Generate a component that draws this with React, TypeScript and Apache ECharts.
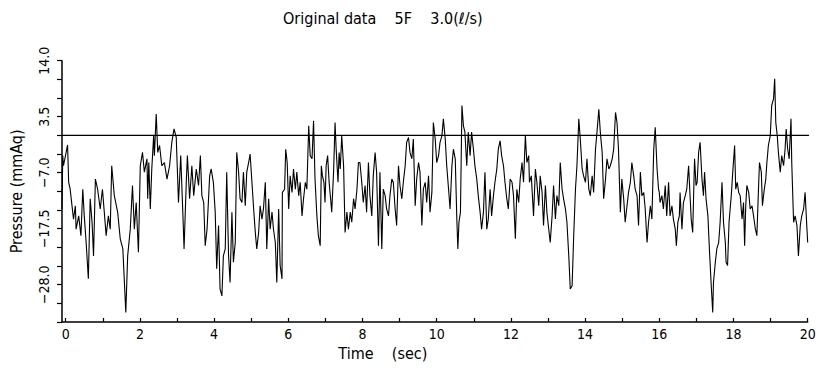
import React, { useEffect, useRef } from "react";
import * as echarts from "echarts";

// [time (sec), pressure (mmAq)] samples
const seg0to4: [number, number][] = [
  [-0.1, -13.8], [-0.08, -3.8], [-0.06, -5.7], [0.05, -1.8], [0.08, -8.8], [0.12, -10.1], [0.21, -15.7], [0.26, -13.2], [0.28, -17.6], [0.35, -15.1],
  [0.41, -18.8], [0.46, -10.1], [0.5, -15.1], [0.55, -20.0], [0.61, -26.9], [0.66, -11.9], [0.71, -16.3], [0.75, -22.6], [0.8, -8.2], [0.86, -10.1],
  [0.93, -13.8], [0.99, -10.1], [1.04, -14.4], [1.09, -18.8], [1.15, -15.1], [1.2, -17.6], [1.24, -5.7], [1.31, -11.3], [1.4, -14.4], [1.47, -19.4],
  [1.54, -21.3], [1.62, -33.2], [1.67, -22.6], [1.74, -17.6], [1.8, -9.4], [1.85, -17.6], [1.9, -12.6], [1.96, -21.9], [2.01, -5.7], [2.07, -3.2],
  [2.12, -6.9], [2.19, -4.4], [2.21, -11.9], [2.24, -5.1], [2.28, -13.8], [2.32, -6.3], [2.37, -0.1], [2.39, -3.8], [2.44, 4.0], [2.48, -3.2],
  [2.53, -1.9], [2.59, -5.7], [2.66, -5.1], [2.73, -8.2], [2.8, -5.7], [2.86, -1.3], [2.92, 1.2], [2.98, -0.4], [2.99, -2.6], [3.04, -12.6],
  [3.1, -3.8], [3.16, -15.1], [3.19, -21.3], [3.25, -8.8], [3.28, -3.8], [3.34, -11.9], [3.4, -5.7], [3.45, -11.3], [3.52, -6.3], [3.58, -9.4],
  [3.63, -3.8], [3.67, -11.3], [3.72, -12.6], [3.76, -20.7], [3.81, -17.6], [3.88, -7.6],
];
const seg4to8: [number, number][] = [
  [3.92, -6.3], [3.98, -8.8], [4.03, -14.4], [4.07, -25.0], [4.12, -16.9], [4.16, -28.8], [4.21, -30.1], [4.25, -22.6], [4.3, -21.3], [4.34, -6.9],
  [4.39, -22.6], [4.43, -27.6], [4.48, -14.4], [4.52, -23.8], [4.57, -20.1], [4.61, -3.2], [4.66, -6.9], [4.7, -11.9], [4.75, -12.6], [4.79, -6.9],
  [4.84, -13.2], [4.88, -6.9], [4.93, -5.1], [4.97, -3.5], [5.02, -8.8], [5.06, -13.2], [5.11, -18.2], [5.15, -21.3], [5.2, -18.2], [5.24, -13.2],
  [5.29, -15.7], [5.33, -13.8], [5.38, -8.8], [5.42, -21.3], [5.47, -11.9], [5.51, -17.6], [5.56, -14.4], [5.6, -17.6], [5.65, -20.1], [5.69, -27.6],
  [5.74, -13.8], [5.78, -24.4], [5.83, -26.9], [5.84, -10.7], [5.9, -10.1], [5.93, -2.6], [5.97, -5.1], [6.01, -13.8], [6.05, -7.6], [6.1, -10.7],
  [6.14, -6.3], [6.19, -10.1], [6.23, -6.9], [6.28, -11.3], [6.32, -8.8], [6.37, -15.1], [6.41, -11.9], [6.46, -8.8], [6.5, -10.1], [6.55, 1.8],
  [6.59, -3.8], [6.64, -4.4], [6.68, 2.75], [6.72, -8.2], [6.77, -15.1], [6.81, -18.8], [6.86, -20.7], [6.89, -5.7], [6.92, -7.6], [6.96, -8.8],
  [6.99, -12.6], [7.02, -5.7], [7.06, -3.8], [7.1, -8.8], [7.14, -11.9], [7.17, -14.4], [7.22, -6.9], [7.26, 2.4], [7.29, -2.6], [7.34, -8.8],
  [7.37, -3.2], [7.4, -6.3], [7.44, -0.1], [7.49, -5.7], [7.53, -18.2], [7.58, -14.4], [7.62, -17.6], [7.67, -14.4], [7.71, -16.3], [7.76, -11.9],
  [7.8, -13.8], [7.85, -10.1], [7.89, -5.1],
];
const seg8to12: [number, number][] = [
  [7.93, -5.1], [7.98, -8.8], [8.02, -12.6], [8.07, -9.4], [8.11, -14.4], [8.16, -5.1], [8.2, -11.3], [8.25, -15.1], [8.29, -7.6], [8.34, -3.2],
  [8.38, -6.9], [8.43, -20.7], [8.47, -6.9], [8.52, -21.3], [8.56, -10.1], [8.61, -11.3], [8.65, -13.8], [8.7, -15.1], [8.74, -11.3], [8.79, -8.2],
  [8.83, -8.8], [8.88, -13.8], [8.92, -16.9], [8.97, -5.7], [9.01, -9.4], [9.06, -11.9], [9.1, -8.8], [9.15, -5.7], [9.19, -1.3], [9.24, -0.4],
  [9.28, -3.2], [9.33, -4.4], [9.37, -0.7], [9.42, -13.2], [9.46, -8.2], [9.51, -5.1], [9.55, -6.9], [9.6, -16.9], [9.64, -10.1], [9.69, -8.8],
  [9.73, -12.6], [9.78, -7.6], [9.82, -14.4], [9.87, -10.7], [9.91, 2.4], [9.96, -0.7], [10.0, -5.1], [10.05, -3.8], [10.09, -1.3], [10.14, -0.1],
  [10.18, 3.1], [10.23, -0.7], [10.27, -5.7], [10.32, -10.1], [10.36, -13.8], [10.41, -5.7], [10.45, -2.6], [10.5, -4.4], [10.54, -15.1], [10.57, -21.3],
  [10.6, -16.3], [10.64, -14.4], [10.68, 5.6], [10.72, 1.8], [10.76, 0.6], [10.81, -5.7], [10.85, 0.6], [10.9, -3.8], [10.94, 0.6], [10.99, -2.6],
  [11.03, -5.7], [11.08, -8.2], [11.12, -11.3], [11.17, -14.4], [11.21, -17.6], [11.26, -14.4], [11.3, -6.9], [11.35, -17.6], [11.39, -15.7], [11.44, -10.1],
  [11.48, -15.1], [11.53, -11.3], [11.57, -8.8], [11.62, -6.3], [11.66, -2.6], [11.71, -1.0], [11.75, -3.8], [11.8, -5.7], [11.84, -8.8], [11.89, -11.9],
  [11.93, -13.8], [11.98, -8.2],
];
const seg12to16: [number, number][] = [
  [12.03, -8.8], [12.07, -11.3], [12.12, -19.4], [12.16, -10.1], [12.21, -12.6], [12.25, -8.2], [12.3, -5.1], [12.34, -8.8], [12.39, -0.1], [12.43, -5.1],
  [12.48, -3.8], [12.5, -8.8], [12.55, -7.6], [12.61, -15.1], [12.66, -6.3], [12.7, -8.8], [12.75, -13.2], [12.79, -7.6], [12.84, -10.7], [12.88, -16.9],
  [12.93, -9.4], [12.97, -14.4], [13.02, -17.6], [13.06, -20.1], [13.11, -15.1], [13.15, -9.4], [13.2, -15.7], [13.24, -11.3], [13.29, -13.2], [13.33, -5.1],
  [13.38, -10.1], [13.42, -11.9], [13.47, -13.8], [13.51, -16.3], [13.56, -22.6], [13.6, -28.8], [13.65, -28.2], [13.69, -19.4], [13.74, -10.1], [13.78, -5.7],
  [13.83, 3.1], [13.87, -0.7], [13.92, -6.3], [13.96, -7.6], [14.01, -8.8], [14.05, -4.4], [14.1, -10.1], [14.14, -11.3], [14.19, -7.6], [14.23, -10.7],
  [14.28, -2.6], [14.32, 0.6], [14.37, 4.9], [14.41, 0.6], [14.46, -3.2], [14.5, -11.9], [14.55, -8.2], [14.59, -4.4], [14.64, -6.3], [14.68, -5.7],
  [14.73, -4.4], [14.77, -2.6], [14.82, 4.3], [14.86, 2.4], [14.9, -2.6], [14.95, -14.4], [14.99, -8.2], [15.04, -11.9], [15.08, -16.3], [15.13, -13.2],
  [15.17, -10.7], [15.22, -8.8], [15.26, -5.1], [15.31, -7.6], [15.35, -10.1], [15.4, -11.3], [15.44, -16.9], [15.49, -6.9], [15.53, -11.3], [15.58, -10.7],
  [15.62, -13.8], [15.67, -20.1], [15.71, -16.3], [15.76, -13.2], [15.8, -15.7], [15.85, -2.6], [15.89, 1.5], [15.94, -6.3], [15.98, -10.1],
];
const seg16to20: [number, number][] = [
  [16.0, -10.7], [16.02, -12.6], [16.07, -11.3], [16.11, -13.8], [16.16, -9.4], [16.2, -15.1], [16.25, -8.8], [16.29, -15.1], [16.34, -13.2], [16.38, -15.7],
  [16.43, -17.6], [16.46, -20.7], [16.5, -16.3], [16.54, -15.1], [16.56, -10.7], [16.61, -17.6], [16.65, -12.6], [16.7, -11.3], [16.74, -10.1], [16.79, -5.7],
  [16.82, -10.1], [16.86, -15.7], [16.9, -18.2], [16.95, -4.4], [16.99, -9.4], [17.02, -8.8], [17.06, -3.2], [17.1, -1.3], [17.15, -8.2], [17.19, -11.3],
  [17.22, -6.9], [17.26, -11.9], [17.31, -15.1], [17.35, -21.3], [17.4, -28.2], [17.44, -33.2], [17.46, -27.6], [17.51, -23.8], [17.55, -21.3], [17.6, -20.1],
  [17.64, -16.3], [17.69, -8.8], [17.73, -16.3], [17.78, -20.1], [17.8, -23.8], [17.84, -24.4], [17.88, -16.3], [17.94, -11.3], [17.98, -6.9], [18.03, -1.9],
  [18.06, -10.1], [18.1, -8.8], [18.14, -10.7], [18.18, -11.3], [18.23, -15.7], [18.27, -12.6], [18.3, -20.7], [18.33, -13.2], [18.36, -9.4], [18.41, -10.7],
  [18.45, -13.8], [18.5, -13.2], [18.54, -15.1], [18.59, -17.6], [18.63, -18.8], [18.68, -8.8], [18.7, -5.1], [18.75, -6.9], [18.78, -13.2], [18.83, -10.1],
  [18.87, -8.2], [18.9, -5.1], [18.94, -1.9], [18.99, -0.1], [19.03, 5.6], [19.08, 6.9], [19.11, 10.6], [19.14, 2.4], [19.18, -0.1], [19.21, -3.2],
  [19.26, -6.9], [19.3, -3.8], [19.35, -5.7], [19.39, -2.6], [19.42, 1.2], [19.46, -2.6], [19.5, -4.4], [19.55, 3.1], [19.57, -5.1], [19.62, -16.3],
  [19.66, -15.1], [19.71, -16.9], [19.75, -22.6], [19.8, -16.9], [19.84, -15.1], [19.89, -13.8], [19.93, -10.7], [19.98, -17.6], [20.0, -20.1],
];

const xTicks = [0, 1, 2, 3, 4, 5, 6, 7, 8, 9, 10, 11, 12, 13, 14, 15, 16, 17, 18, 19, 20];
const xLabels = [0, 2, 4, 6, 8, 10, 12, 14, 16, 18, 20];
const yLabels = [-28.0, -17.5, -7.0, 3.5, 14.0];
const zeroLine: [number, number][] = [[-0.1, 0], [20.7, 0]];

const FONT = "'DejaVu Sans Condensed', 'Liberation Sans Narrow', 'Liberation Sans', sans-serif";

export default function App() {
  const ref = useRef<HTMLDivElement>(null);
  useEffect(() => {
    if (!ref.current) return;
    const chart = echarts.init(ref.current, undefined, { renderer: "svg" });
    const data = [...seg0to4, ...seg4to8, ...seg8to12, ...seg12to16, ...seg16to20];
    chart.setOption({
      animation: false,
      backgroundColor: "#ffffff",
      textStyle: { fontFamily: FONT, color: "#000" },
      title: {
        text: "Original data    5F    3.0(ℓ/s)",
        left: 278,
        top: 5,
        textStyle: { fontFamily: FONT, fontSize: 16, fontWeight: "normal", color: "#000" },
      },
      grid: { left: 61.7, right: 25.3, top: 60.7, bottom: 49 },
      xAxis: {
        type: "value",
        min: -0.1,
        max: 20,
        name: "Time    (sec)",
        nameLocation: "middle",
        nameGap: 19,
        nameTextStyle: { fontFamily: FONT, fontSize: 16, color: "#000", padding: [0, 104, 0, 0] },
        axisLine: { onZero: false, lineStyle: { color: "#000", width: 1.5 } },
        axisTick: { inside: true, length: 4, customValues: xTicks, lineStyle: { color: "#000", width: 1.2 } },
        axisLabel: { customValues: xLabels, margin: 5, fontSize: 14, color: "#000", fontFamily: FONT },
        splitLine: { show: false },
      },
      yAxis: {
        type: "value",
        min: -35,
        max: 14,
        interval: 3.5,
        name: "Pressure (mmAq)",
        nameLocation: "middle",
        nameGap: 38,
        nameTextStyle: { fontFamily: FONT, fontSize: 16, color: "#000" },
        axisLine: { show: true, onZero: false, lineStyle: { color: "#000", width: 1.5 } },
        axisTick: { show: true, length: 5, lineStyle: { color: "#000", width: 1.2 } },
        axisLabel: {
          customValues: yLabels,
          rotate: 90,
          margin: 11,
          fontSize: 14,
          color: "#000",
          fontFamily: FONT,
          formatter: (v: number) => (v < 0 ? "−" + Math.abs(v).toFixed(1) : v.toFixed(1)),
        },
        splitLine: { show: false },
      },
      series: [
        {
          type: "line",
          data: zeroLine,
          showSymbol: false,
          symbol: "none",
          clip: false,
          silent: true,
          lineStyle: { color: "#000", width: 1.3 },
        },
        {
          type: "line",
          data,
          showSymbol: false,
          symbol: "none",
          clip: false,
          lineStyle: { color: "#000", width: 1.1 },
        },
      ],
    });
    return () => chart.dispose();
  }, []);
  return (
    <div
      ref={ref}
      style={{ position: "absolute", left: 0, top: 0, width: 833, height: 371 }}
    />
  );
}
